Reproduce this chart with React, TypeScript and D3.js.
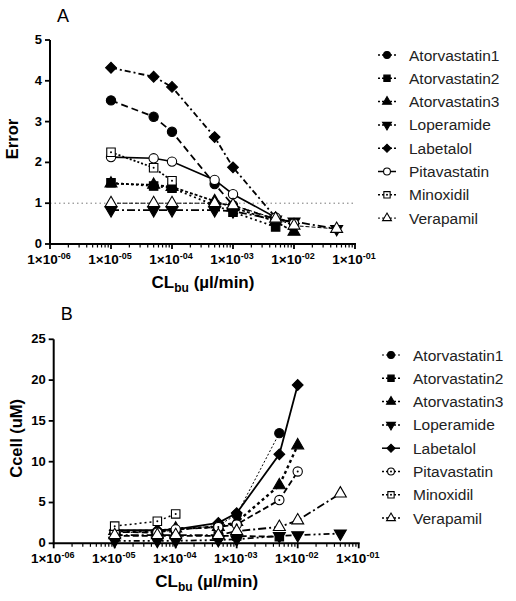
import React from "react";
import * as d3 from "d3";

const SERIES = ["Atorvastatin1", "Atorvastatin2", "Atorvastatin3", "Loperamide", "Labetalol", "Pitavastatin", "Minoxidil", "Verapamil"];
const CL = [1e-5, 5e-5, 1e-4, 5e-4, 1e-3, 5e-3, 1e-2, 5e-2];
const X_TICKS = [1e-6, 1e-5, 1e-4, 1e-3, 1e-2, 1e-1];
const X_TICK_EXP = ["-06", "-05", "-04", "-03", "-02", "-01"];

// Panel A: Error
const errAtorva1 = [3.52, 3.12, 2.75, 1.47, 0.95, 0.6, null, null];
const errAtorva2 = [1.5, 1.42, 1.37, 0.95, 0.78, 0.42, null, null];
const errAtorva3 = [1.48, 1.45, 1.4, 1.05, 0.9, 0.55, 0.3, null];
const errLoper = [0.83, 0.83, 0.83, 0.83, 0.8, 0.6, 0.55, 0.37];
const errLabet = [4.32, 4.1, 3.85, 2.62, 1.88, 0.65, 0.5, null];
const errPitava = [2.13, 2.1, 2.02, 1.57, 1.22, 0.65, 0.5, null];
const errMinox = [2.25, 1.87, 1.55, null, null, null, null, null];
const errVerap = [1.0, 1.0, 1.0, 1.0, 0.95, 0.62, 0.45, 0.37];
const Y_A_TICKS = [0, 1, 2, 3, 4, 5];

// Panel B: Ccell (uM)
const cAtorva1 = [1.3, 1.4, 1.6, 2.2, 3.5, 13.5, null, null];
const cAtorva2 = [0.9, 0.9, 0.9, 0.9, 0.9, 0.8, null, null];
const cAtorva3 = [1.5, 1.5, 1.8, 2.0, 2.6, 7.1, 12.0, null];
const cLoper = [0.3, 0.3, 0.3, 0.4, 0.5, 0.9, 1.0, 1.2];
const cLabet = [1.6, 1.6, 1.7, 2.5, 3.7, 10.9, 19.4, null];
const cPitava = [1.4, 1.3, 1.7, 2.0, 2.3, 5.3, 8.8, null];
const cMinox = [2.1, 2.7, 3.6, null, null, null, null, null];
const cVerap = [1.0, 1.0, 1.0, 1.0, 1.5, 2.0, 2.8, 6.1];
const Y_B_TICKS = [0, 5, 10, 15, 20, 25];

type Style = { shape: string; open: boolean; dot: boolean; dash: string; width: number };

const STYLE_A: Style[] = [
  { shape: "circle", open: false, dot: false, dash: "7,4", width: 1.8 },
  { shape: "square", open: false, dot: false, dash: "2,3", width: 1.8 },
  { shape: "triangle", open: false, dot: false, dash: "3,2", width: 1.8 },
  { shape: "down", open: false, dot: false, dash: "8,3,2,3", width: 1.8 },
  { shape: "diamond", open: false, dot: false, dash: "6,3,2,3", width: 1.8 },
  { shape: "circle", open: true, dot: false, dash: "", width: 1.6 },
  { shape: "square", open: true, dot: true, dash: "2,2", width: 1.8 },
  { shape: "triangle", open: true, dot: false, dash: "4,2", width: 1.0 },
];
const STYLE_B: Style[] = [
  { shape: "circle", open: false, dot: false, dash: "2,2", width: 1.0 },
  { shape: "square", open: false, dot: false, dash: "6,3", width: 1.8 },
  { shape: "triangle", open: false, dot: false, dash: "3,3", width: 2.4 },
  { shape: "down", open: false, dot: false, dash: "6,3,2,3,2,3", width: 1.8 },
  { shape: "diamond", open: false, dot: false, dash: "", width: 1.8 },
  { shape: "circle", open: true, dot: true, dash: "6,3", width: 1.8 },
  { shape: "square", open: true, dot: true, dash: "2,3", width: 1.5 },
  { shape: "triangle", open: true, dot: false, dash: "8,3,2,3", width: 1.8 },
];

const DATA_A = [errAtorva1, errAtorva2, errAtorva3, errLoper, errLabet, errPitava, errMinox, errVerap];
const DATA_B = [cAtorva1, cAtorva2, cAtorva3, cLoper, cLabet, cPitava, cMinox, cVerap];

const FONT = "'Liberation Sans', Arial, sans-serif";

function markerPath(shape: string, k: number): string {
  if (shape === "circle") return d3.symbol().type(d3.symbolCircle).size(68 * k)()!;
  if (shape === "square") return d3.symbol().type(d3.symbolSquare).size(72 * k)()!;
  if (shape === "triangle" || shape === "down") return d3.symbol().type(d3.symbolTriangle).size(62 * k)()!;
  return d3.symbol().type(d3.symbolSquare).size(58 * k)()!;
}

function Marker({ x, y, st, k = 1 }: { x: number; y: number; st: Style; k?: number }) {
  const rot = st.shape === "down" ? 180 : st.shape === "diamond" ? 45 : 0;
  return (
    <g transform={`translate(${x},${y}) rotate(${rot})`}>
      <path d={markerPath(st.shape, k)} fill={st.open ? "#fff" : "#000"} stroke="#000" strokeWidth={1.1} />
      {st.dot && <circle r={1} fill="#000" />}
    </g>
  );
}

function Panel({ label, labelY, x0, top, bottom, yMax, yTicks, data, styles, yTitle, refLine, legendX, legendY0 }: any) {
  const x = d3.scaleLog().domain([1e-6, 1e-1]).range([x0, x0 + 305]);
  const y = d3.scaleLinear().domain([0, yMax]).range([bottom, top]);
  const minor: number[] = [];
  for (let e = -6; e < -1; e++) for (let k = 2; k <= 9; k++) minor.push(k * Math.pow(10, e));
  const line = d3
    .line<[number, number]>()
    .x((d) => x(d[0]))
    .y((d) => y(d[1]));
  return (
    <g>
      <text x={x0 + 7} y={labelY} fontFamily={FONT} fontSize={18}>{label}</text>
      {refLine && (
        <line x1={x(1e-6)} x2={x(1e-1)} y1={y(1)} y2={y(1)} stroke="#777" strokeWidth={1} strokeDasharray="1.5,3" />
      )}
      {/* axes */}
      <line x1={x0} x2={x0} y1={bottom + 1} y2={top} stroke="#000" strokeWidth={2} />
      <line x1={x0 - 1} x2={x(1e-1) + 1} y1={bottom} y2={bottom} stroke="#000" strokeWidth={2} />
      {yTicks.map((t: number) => (
        <g key={"yt" + t}>
          <line x1={x0 - 5} x2={x0} y1={y(t)} y2={y(t)} stroke="#000" strokeWidth={1.8} />
          <text x={x0 - 8} y={y(t)} dy="0.3em" textAnchor="end" fontFamily={FONT} fontWeight="bold" fontSize={13}>{t}</text>
        </g>
      ))}
      {minor.map((t, i) => (
        <line key={"mn" + i} x1={x(t)} x2={x(t)} y1={bottom} y2={bottom + 3.5} stroke="#000" strokeWidth={1.2} />
      ))}
      {X_TICKS.map((t, i) => (
        <g key={"xt" + i}>
          <line x1={x(t)} x2={x(t)} y1={bottom} y2={bottom + 5} stroke="#000" strokeWidth={1.8} />
          <text x={x(t) - 1} y={bottom + 19.5} textAnchor="middle" fontFamily={FONT} fontWeight="bold" fontSize={13.5}>
            <tspan>1×10</tspan>
            <tspan dy={-4.5} fontSize={9}>{X_TICK_EXP[i]}</tspan>
          </text>
        </g>
      ))}
      <text x={x0 + 153} y={bottom + 44} textAnchor="middle" fontFamily={FONT} fontWeight="bold" fontSize={17}>
        <tspan>CL</tspan>
        <tspan dy={4} fontSize={12}>bu</tspan>
        <tspan dy={-4}> (µl/min)</tspan>
      </text>
      <text transform={`translate(${x0 - 32},${(top + bottom) / 2 - 3}) rotate(-90)`} textAnchor="middle" fontFamily={FONT} fontWeight="bold" fontSize={16.5}>{yTitle}</text>
      {/* series */}
      {data.map((vals: (number | null)[], si: number) => {
        const pts: [number, number][] = [];
        vals.forEach((v, i) => {
          if (v !== null) pts.push([CL[i], v]);
        });
        const st: Style = styles[si];
        return (
          <g key={"s" + si}>
            <path d={line(pts)!} fill="none" stroke="#000" strokeWidth={st.width} strokeDasharray={st.dash || undefined} />
            {pts.map((p, j) => (
              <Marker key={j} x={x(p[0])} y={y(p[1])} st={st} />
            ))}
          </g>
        );
      })}
      {/* legend */}
      {SERIES.map((name, i) => {
        const ly = legendY0 + i * 23.3;
        const st: Style = styles[i];
        return (
          <g key={"lg" + i}>
            <line x1={legendX - 9} x2={legendX + 9} y1={ly} y2={ly} stroke="#000" strokeWidth={Math.min(st.width, 1.5)} strokeDasharray={st.dash ? "2,2" : undefined} />
            <Marker x={legendX} y={ly} st={st} k={0.55} />
            <text x={legendX + 22} y={ly} dy="0.36em" fontFamily={FONT} fontSize={15.5} fill="#222">{name}</text>
          </g>
        );
      })}
    </g>
  );
}

export default function App() {
  return (
    <svg width={516} height={601} style={{ position: "absolute", left: 0, top: 0, background: "#fff" }}>
      <Panel label="A" labelY={22} x0={50} top={40} bottom={244} yMax={5} yTicks={Y_A_TICKS} data={DATA_A} styles={STYLE_A} yTitle="Error" refLine={true} legendX={387} legendY0={55} />
      <Panel label="B" labelY={320} x0={53.7} top={339.3} bottom={543.3} yMax={25} yTicks={Y_B_TICKS} data={DATA_B} styles={STYLE_B} yTitle="Ccell (uM)" refLine={false} legendX={391} legendY0={355} />
    </svg>
  );
}
